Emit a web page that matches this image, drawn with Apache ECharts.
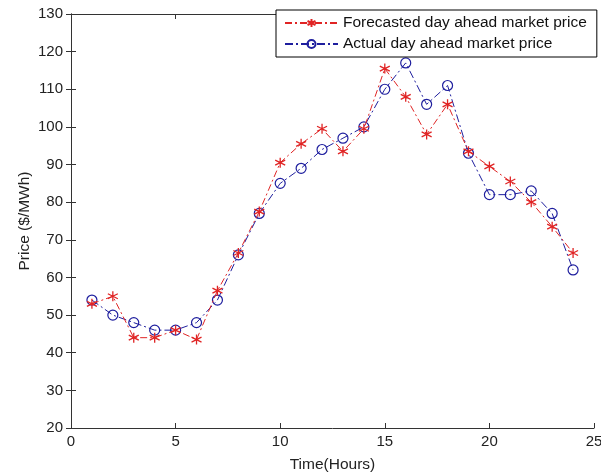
<!DOCTYPE html>
<html>
<head>
<meta charset="utf-8">
<script src="https://cdn.jsdelivr.net/npm/echarts@6/dist/echarts.min.js"></script>
<style>
  html, body { margin: 0; padding: 0; background: #fff; }
  #chart { width: 601px; height: 473px; }
</style>
</head>
<body>
<div id="chart"></div>
<script>
var hours = [1,2,3,4,5,6,7,8,9,10,11,12,13,14,15,16,17,18,19,20,21,22,23,24];
var forecasted = [53,55,44,44,46,43.5,56.5,66.5,77.5,90.5,95.5,99.5,93.5,99.5,115.5,108,98,106,93.5,89.5,85.5,80,73.5,66.5];
var actual = [54,50,48,46,46,48,54,66,77,85,89,94,97,100,110,117,106,111,93,82,82,83,77,62];
var seriesNames = ['Forecasted day ahead market price', 'Actual day ahead market price'];

function pairs(vals) {
  return hours.map(function (h, i) { return [h, vals[i]]; });
}

var starPath = 'path://M5 0 L5 10 M0.7 2.5 L9.3 7.5 M0.7 7.5 L9.3 2.5';
var font = '"Liberation Sans", Arial, sans-serif';
var red = '#e02424';
var blue = '#1e1e9e';

var chart = echarts.init(document.getElementById('chart'));

var axisBase = {
  axisLine: { show: true, lineStyle: { color: '#333', width: 1 } },
  axisTick: { show: true, inside: true, length: 5, lineStyle: { color: '#333' } },
  splitLine: { show: false }
};

chart.setOption({
  animation: false,
  backgroundColor: '#fff',
  grid: { left: 71, right: 7, top: 14, bottom: 45, outerBoundsMode: 'none', containLabel: false },
  legend: {
    orient: 'vertical',
    left: 276,
    top: 10,
    width: 318,
    padding: [5, 10, 5, 8],
    itemGap: 5,
    itemWidth: 53,
    itemHeight: 10,
    backgroundColor: '#fff',
    borderColor: '#000',
    borderWidth: 1,
    borderRadius: 0,
    textStyle: { fontFamily: font, fontSize: 15.5, color: '#111' },
    data: seriesNames
  },
  xAxis: [
    Object.assign({
      type: 'value', min: 0, max: 25, interval: 5,
      name: 'Time(Hours)', nameLocation: 'middle', nameGap: 29, nameMoveOverlap: false,
      nameTextStyle: { fontFamily: font, fontSize: 15.5, color: '#222' },
      axisLabel: { fontFamily: font, fontSize: 15, color: '#222', margin: 6 }
    }, axisBase),
    Object.assign({
      type: 'value', min: 0, max: 25, interval: 5, position: 'top',
      axisLabel: { show: false }
    }, axisBase)
  ],
  yAxis: [
    Object.assign({
      type: 'value', min: 20, max: 130, interval: 10,
      name: 'Price ($/MWh)', nameLocation: 'middle', nameGap: 38, nameMoveOverlap: false,
      nameTextStyle: { fontFamily: font, fontSize: 15.5, color: '#222' },
      axisLabel: { fontFamily: font, fontSize: 15, color: '#222', margin: 8 }
    }, axisBase),
    Object.assign({
      type: 'value', min: 20, max: 130, interval: 10, position: 'right',
      axisLabel: { show: false }
    }, axisBase)
  ],
  series: [
    {
      name: seriesNames[0],
      type: 'line',
      data: pairs(forecasted),
      symbol: starPath,
      symbolSize: 10,
      showAllSymbol: true,
      itemStyle: { color: 'rgba(0,0,0,0)', borderColor: red, borderWidth: 1.3 },
      lineStyle: { color: red, width: 1, type: [7, 3, 2, 3] },
      z: 3
    },
    {
      name: seriesNames[1],
      type: 'line',
      data: pairs(actual),
      symbol: 'circle',
      symbolSize: 10,
      showAllSymbol: true,
      itemStyle: { color: 'rgba(0,0,0,0)', borderColor: blue, borderWidth: 1.2 },
      lineStyle: { color: blue, width: 1, type: [8, 3, 2, 3] },
      z: 2
    }
  ]
});
</script>
</body>
</html>
